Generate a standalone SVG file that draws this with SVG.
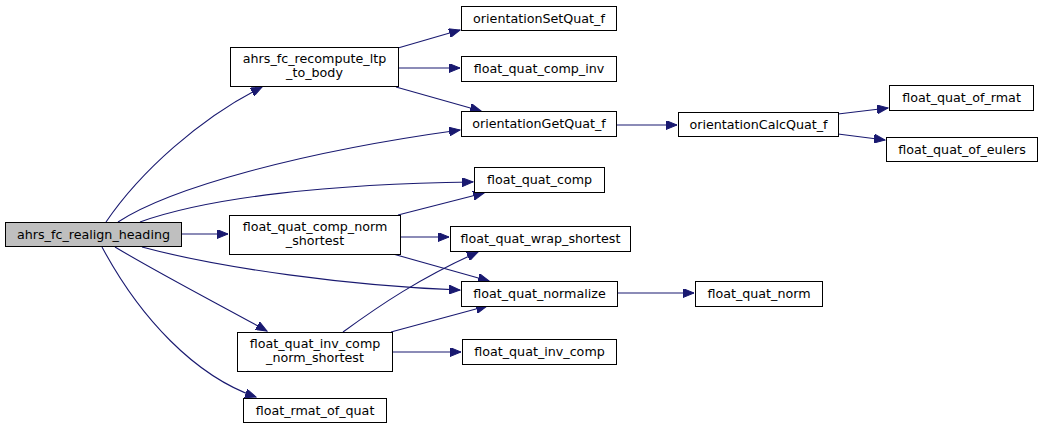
<svg xmlns="http://www.w3.org/2000/svg" width="1043" height="429" viewBox="0 0 1043 429">
<style>
.n rect{fill:#ffffff;stroke:#000000;stroke-width:1}
.root rect{fill:#bfbfbf}
.n text{font-family:"DejaVu Sans","Liberation Sans",sans-serif;font-size:12.7px;fill:#000000;text-anchor:middle}
.e path{fill:none;stroke:#191970;stroke-width:1.1;marker-end:url(#ah)}
</style>
<defs>
<marker id="ah" markerUnits="userSpaceOnUse" markerWidth="12" markerHeight="9" refX="11" refY="4.5" orient="auto">
<path d="M0,0 L11,4.5 L0,9 z" fill="#191970" stroke="#191970" stroke-width="1"/>
</marker>
</defs>
<rect width="1043" height="429" fill="#ffffff"/>
<g id="edges" class="e">
<path d="M106,222 C140,172 200,118 262,87"/>
<path d="M118,222 C170,188 300,152 460,130"/>
<path d="M140,222 C210,197 330,184 473,182"/>
<path d="M181,234 L228,234"/>
<path d="M142,247 C220,268 350,286 460,290"/>
<path d="M115,247 C160,274 220,305 267,331"/>
<path d="M102,247 C140,318 195,376 256,397"/>
<path d="M398,48 L460,30"/>
<path d="M399,68 L460,68"/>
<path d="M396,87 L481,111"/>
<path d="M398,215 L484,193"/>
<path d="M400,237 L449,237"/>
<path d="M393,254 L489,281"/>
<path d="M343,332 C380,305 420,278 478,252"/>
<path d="M391,332 L487,306"/>
<path d="M392,352 L461,352"/>
<path d="M616,125 L677,125"/>
<path d="M617,293 L694,293"/>
<path d="M838,114 L888,108"/>
<path d="M838,134 L885,140"/>
</g>
<g id="n_ahrs_fc_realign_heading" class="n root"><rect x="5.5" y="222.5" width="176" height="24"/><text x="93.5" y="238.5">ahrs_fc_realign_heading</text></g>
<g id="n_ahrs_fc_recompute_ltp_to_body" class="n"><rect x="230.5" y="47.5" width="168" height="39"/><text x="314.5" y="63">ahrs_fc_recompute_ltp</text><text x="314.5" y="77">_to_body</text></g>
<g id="n_float_quat_comp_norm_shortest" class="n"><rect x="229.5" y="215.5" width="171" height="39"/><text x="315" y="231">float_quat_comp_norm</text><text x="315" y="245">_shortest</text></g>
<g id="n_float_quat_inv_comp_norm_shortest" class="n"><rect x="237.5" y="332.5" width="155" height="39"/><text x="315" y="348">float_quat_inv_comp</text><text x="315" y="362">_norm_shortest</text></g>
<g id="n_float_rmat_of_quat" class="n"><rect x="243.5" y="398.5" width="143" height="24"/><text x="315" y="414.5">float_rmat_of_quat</text></g>
<g id="n_orientationSetQuat_f" class="n"><rect x="461.5" y="6.5" width="155" height="24"/><text x="539" y="22.5">orientationSetQuat_f</text></g>
<g id="n_float_quat_comp_inv" class="n"><rect x="461.5" y="56.5" width="155" height="25"/><text x="539" y="73">float_quat_comp_inv</text></g>
<g id="n_orientationGetQuat_f" class="n"><rect x="461.5" y="111.5" width="155" height="25"/><text x="539" y="128">orientationGetQuat_f</text></g>
<g id="n_float_quat_comp" class="n"><rect x="474.5" y="167.5" width="130" height="25"/><text x="539.5" y="184">float_quat_comp</text></g>
<g id="n_float_quat_wrap_shortest" class="n"><rect x="450.5" y="226.5" width="180" height="25"/><text x="540.5" y="243">float_quat_wrap_shortest</text></g>
<g id="n_float_quat_normalize" class="n"><rect x="461.5" y="281.5" width="156" height="25"/><text x="539.5" y="298">float_quat_normalize</text></g>
<g id="n_float_quat_inv_comp" class="n"><rect x="462.5" y="339.5" width="154" height="25"/><text x="539.5" y="356">float_quat_inv_comp</text></g>
<g id="n_orientationCalcQuat_f" class="n"><rect x="678.5" y="112.5" width="160" height="24"/><text x="758.5" y="129">orientationCalcQuat_f</text></g>
<g id="n_float_quat_of_rmat" class="n"><rect x="889.5" y="85.5" width="144" height="25"/><text x="961.5" y="102">float_quat_of_rmat</text></g>
<g id="n_float_quat_of_eulers" class="n"><rect x="886.5" y="137.5" width="151" height="24"/><text x="962" y="153.5">float_quat_of_eulers</text></g>
<g id="n_float_quat_norm" class="n"><rect x="695.5" y="281.5" width="127" height="25"/><text x="759" y="298">float_quat_norm</text></g>
</svg>
